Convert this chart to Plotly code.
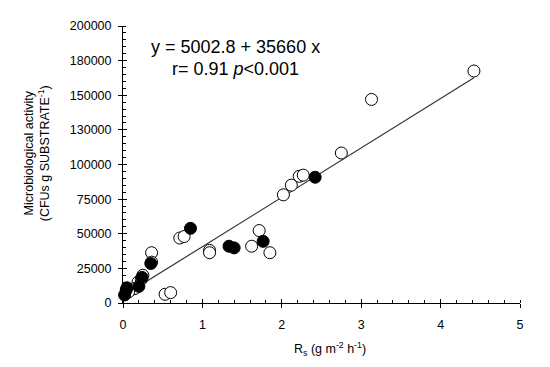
import plotly.graph_objects as go

# Data
open_x = [4.42, 3.13, 2.75, 2.22, 2.27, 2.12, 2.02, 1.715, 1.62, 1.85, 1.09, 1.09,
          0.715, 0.77, 0.53, 0.60, 0.36, 0.36, 0.19, 0.25, 0.11, 0.15, 0.07, 0.23]
open_y = [167500, 147000, 108300, 91500, 92300, 85100, 78100, 52300, 41000, 36300, 38000, 36300,
          46900, 48000, 6300, 7500, 36300, 29500, 15200, 20000, 9800, 10500, 8000, 17000]
filled_x = [2.42, 1.765, 1.335, 1.40, 0.85, 0.35, 0.24, 0.04, 0.02, 0.05, 0.20]
filled_y = [90800, 44500, 41000, 39800, 53900, 28500, 18500, 9400, 5800, 11000, 12000]

intercept = 5002.8
slope = 35660
line_x = [0.0, 4.42]
line_y = [intercept + slope * v for v in line_x]

y_tickvals = [0, 25000, 50000, 75000, 100000, 125000, 150000, 175000, 200000]
y_ticktext = ["0", "25000", "50000", "75000", "100000", "130000", "150000", "180000", "200000"]
x_tickvals = [0, 1, 2, 3, 4, 5]

fig = go.Figure()
fig.add_trace(go.Scatter(x=line_x, y=line_y, mode="lines",
                         line=dict(color="#333333", width=1.2), showlegend=False, hoverinfo="skip"))
fig.add_trace(go.Scatter(x=open_x, y=open_y, mode="markers", cliponaxis=False,
                         marker=dict(symbol="circle", size=12, color="white",
                                     line=dict(color="black", width=1)), showlegend=False))
fig.add_trace(go.Scatter(x=filled_x, y=filled_y, mode="markers", cliponaxis=False,
                         marker=dict(symbol="circle", size=12, color="black",
                                     line=dict(color="black", width=1)), showlegend=False))

font_family = "Liberation Sans, Arial, sans-serif"
# page body has an 8px margin, margins compensate for it
fig.update_layout(
    width=550, height=367,
    margin=dict(l=115, r=38, t=11, b=72),
    paper_bgcolor="white", plot_bgcolor="white",
    font=dict(family=font_family, color="black", size=12.5),
    xaxis=dict(range=[0, 5], tickvals=x_tickvals, ticks="outside", ticklen=4, tickcolor="black",
               showline=True, linecolor="black", linewidth=1, showgrid=False, zeroline=False,
               tickfont=dict(size=12.5), ticklabelstandoff=6,
               minor=dict(dtick=0.2, tick0=0, ticks="inside", ticklen=3, tickcolor="black", showgrid=False)),
    yaxis=dict(range=[0, 200000], tickvals=y_tickvals, ticktext=y_ticktext, ticks="outside", ticklen=4,
               tickcolor="black", showline=True, linecolor="black", linewidth=1, showgrid=False,
               zeroline=False, tickfont=dict(size=12.5), ticklabelstandoff=4,
               minor=dict(dtick=5000, tick0=0, ticks="inside", ticklen=3, tickcolor="black", showgrid=False)),
    xaxis2=dict(range=[0, 5], overlaying="x", tickvals=x_tickvals, ticks="inside", ticklen=4,
                tickcolor="black", showticklabels=False, showgrid=False, zeroline=False, showline=False),
    yaxis2=dict(range=[0, 200000], overlaying="y", tickvals=y_tickvals, ticks="inside", ticklen=4,
                tickcolor="black", showticklabels=False, showgrid=False, zeroline=False, showline=False),
)
# dummy trace to activate the overlay axes
fig.add_trace(go.Scatter(x=[None], y=[None], xaxis="x2", yaxis="y2", showlegend=False, hoverinfo="skip"))

fig.add_annotation(text="y = 5002.8 + 35660 x", xref="paper", yref="paper",
                   x=(236 - 123.3) / 396.7, y=(303.3 - 41) / 284.3, showarrow=False,
                   font=dict(size=18, family=font_family), xanchor="center", yanchor="middle")
fig.add_annotation(text="r= 0.91 <i>p</i><0.001", xref="paper", yref="paper",
                   x=(236 - 123.3) / 396.7, y=(303.3 - 63) / 284.3, showarrow=False,
                   font=dict(size=18, family=font_family), xanchor="center", yanchor="middle")
fig.add_annotation(text="Microbiological activity<br>(CFUs g SUBSTRATE<sup>-1</sup>)",
                   xref="paper", yref="paper", x=(37 - 123.3) / 396.7, y=(303.3 - 150) / 284.3,
                   textangle=-90, showarrow=False, font=dict(size=12.5, family=font_family),
                   xanchor="center", yanchor="middle")
fig.add_annotation(text="R<sub>s</sub> (g m<sup>-2</sup> h<sup>-1</sup>)", xref="paper", yref="paper",
                   x=(330 - 123.3) / 396.7, y=(303.3 - 350) / 284.3, showarrow=False,
                   font=dict(size=12.5, family=font_family), xanchor="center", yanchor="middle")

fig.write_html("out.html")
